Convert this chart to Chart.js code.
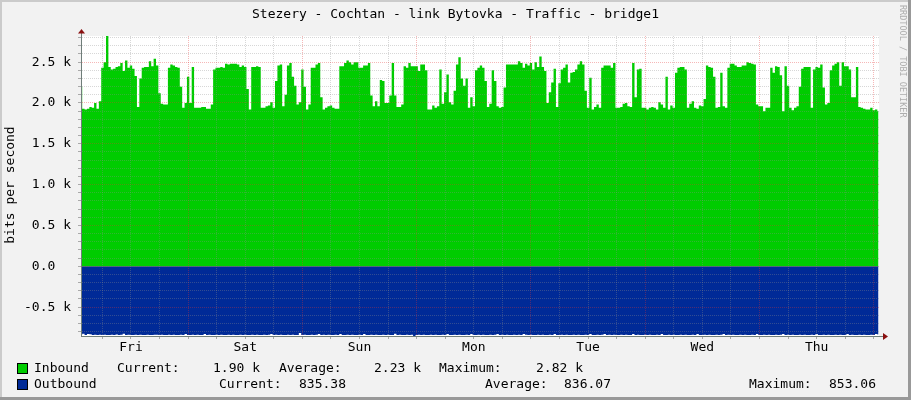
<!DOCTYPE html>
<html>
<head>
<meta charset="utf-8">
<title>Stezery - Cochtan - link Bytovka - Traffic - bridge1</title>
<script src="https://cdn.jsdelivr.net/npm/chart.js@4.4.1/dist/chart.umd.min.js"></script>
<style>
    html, body { margin: 0; padding: 0; background: #f2f2f2; }
    .graph {
        position: relative;
        width: 911px;
        height: 400px;
        overflow: hidden;
        background: #f2f2f2;
        font-family: "DejaVu Sans Mono", monospace;
        font-size: 13px;
        color: #000;
    }
    #trafficChart { position: absolute; left: 0; top: 0; }
    .txt { position: absolute; white-space: pre; line-height: 16px; }
    .graph-title { left: 0; width: 911px; top: 6px; text-align: center; }
    .y-title {
        left: 10px; top: 185px;
        transform: translate(-50%, -50%) rotate(-90deg);
    }
    .watermark {
        left: 898px; top: 5px;
        writing-mode: vertical-rl;
        font-size: 8.5px; line-height: 10px;
        color: #adadad;
    }
    .swatch {
        position: absolute;
        width: 9px; height: 9px;
        border: 1px solid #000;
    }
    .shade { position: absolute; }
</style>
</head>
<body>
<div class="graph">
    <canvas id="trafficChart" width="911" height="400"></canvas>

    <div class="txt graph-title">Stezery - Cochtan - link Bytovka - Traffic - bridge1</div>
    <div class="txt y-title">bits per second</div>
    <div class="txt watermark">RRDTOOL / TOBI OETIKER</div>

    <div class="swatch" style="left:17px; top:363px; background:#00cc00;"></div>
    <div class="txt" style="left:34px; top:360px;">Inbound</div>
    <div class="txt" style="left:117px; top:360px;">Current:</div>
    <div class="txt" id="inCurrent" style="left:213px; top:360px;"></div>
    <div class="txt" style="left:279px; top:360px;">Average:</div>
    <div class="txt" id="inAverage" style="left:374px; top:360px;"></div>
    <div class="txt" style="left:439px; top:360px;">Maximum:</div>
    <div class="txt" id="inMaximum" style="left:536px; top:360px;"></div>

    <div class="swatch" style="left:17px; top:379px; background:#002a97;"></div>
    <div class="txt" style="left:34px; top:376px;">Outbound</div>
    <div class="txt" style="left:219px; top:376px;">Current:</div>
    <div class="txt" id="outCurrent" style="left:299px; top:376px;"></div>
    <div class="txt" style="left:485px; top:376px;">Average:</div>
    <div class="txt" id="outAverage" style="left:564px; top:376px;"></div>
    <div class="txt" style="left:749px; top:376px;">Maximum:</div>
    <div class="txt" id="outMaximum" style="left:829px; top:376px;"></div>

    <div class="shade" style="left:0; top:0; width:911px; height:2px; background:#cbcbcb;"></div>
    <div class="shade" style="left:0; top:0; width:2px; height:400px; background:#cbcbcb;"></div>
    <div class="shade" style="left:908px; top:0; width:3px; height:400px; background:#999;"></div>
    <div class="shade" style="left:0; top:397px; width:911px; height:3px; background:#999;"></div>
</div>

<script>
// Time axis: hours counted from Thursday 00:00, one sample per 30 minutes
const sampleStartHour = 1.5;
const sampleStepHours = 0.5;
const rangeEndHour = 169.1;

// Day names sit at noon of the day before (rrdtool week graph)
const dayLabels = ['Fri', 'Sat', 'Sun', 'Mon', 'Tue', 'Wed', 'Thu'];
const dayLabelHours = [12, 36, 60, 84, 108, 132, 156];

const yTickValues = [-500, 0, 500, 1000, 1500, 2000, 2500];
const yTickLabels = ['-0.5 k', '0.0  ', '0.5 k', '1.0 k', '1.5 k', '2.0 k', '2.5 k'];
const yMin = -853.06;
const yMax = 2820;

// Inbound traffic, bits per second
const inboundBits = [
    2200, 1930, 1920, 1930, 1950, 1940, 2000, 1930, 2020, 2430, 2500, 2820, 2440, 2410,
    2420, 2440, 2450, 2490, 2390, 2520, 2430, 2460, 2420, 2330, 1950, 2300, 2430, 2440,
    2440, 2510, 2450, 2540, 2460, 2120, 1990, 1980, 1980, 2430, 2470, 2460, 2440, 2430,
    2200, 1940, 2000, 2320, 2000, 2440, 1940, 1940, 1940, 1950, 1950, 1930, 1930, 1980,
    2410, 2430, 2430, 2440, 2430, 2480, 2470, 2480, 2480, 2480, 2470, 2440, 2460, 2440,
    2170, 1920, 2440, 2440, 2450, 2440, 1940, 1940, 1960, 1970, 2010, 1940, 2270, 2460,
    2470, 1960, 2100, 2460, 2490, 2320, 2210, 1980, 2010, 2410, 2200, 1920, 1980, 2430,
    2430, 2470, 2490, 2070, 1920, 1940, 1960, 1970, 1940, 1930, 1930, 2450, 2450, 2490,
    2520, 2500, 2470, 2500, 2500, 2430, 2430, 2460, 2460, 2490, 2090, 1960, 2020, 1960,
    2280, 2270, 2000, 2000, 2090, 2490, 2090, 1950, 1950, 1980, 2450, 2430, 2490, 2450,
    2450, 2450, 2390, 2470, 2470, 2400, 1920, 1920, 1970, 1940, 1960, 2410, 1990, 2130,
    2350, 2010, 1980, 2150, 2470, 2560, 2300, 2210, 2300, 1940, 2070, 1960, 2400, 2430,
    2460, 2430, 2270, 1950, 1990, 2400, 2270, 1960, 1940, 1950, 2190, 2470, 2470, 2470,
    2470, 2470, 2510, 2490, 2430, 2480, 2460, 2490, 2410, 2500, 2440, 2570, 2440, 2390,
    2000, 2130, 2250, 2420, 1950, 2240, 2410, 2430, 2470, 2250, 2370, 2380, 2410, 2470,
    2510, 2470, 2150, 1940, 2310, 1920, 1950, 1980, 1940, 2430, 2460, 2460, 2460, 2430,
    2490, 1940, 1940, 1950, 1990, 2000, 1960, 1950, 2490, 2070, 2410, 2420, 1940, 1940,
    1920, 1940, 1950, 1940, 1920, 2010, 1980, 1940, 2320, 1920, 1970, 1940, 2370, 2430,
    2440, 2440, 2410, 1940, 1990, 2020, 1940, 1930, 1970, 1960, 2050, 2460, 2440, 2430,
    2320, 1940, 1950, 2370, 1960, 1940, 2430, 2480, 2480, 2460, 2440, 2440, 2460, 2460,
    2500, 2490, 2480, 2470, 1980, 1960, 1960, 1900, 1940, 1940, 2430, 2370, 2450, 2440,
    2340, 1900, 2450, 2210, 1940, 1910, 1940, 1960, 2200, 2420, 2440, 2440, 2440, 1940,
    2410, 2440, 2430, 2470, 2190, 1980, 2000, 2400, 2460, 2480, 2500, 2210, 2500, 2450,
    2450, 2410, 2070, 2070, 2440, 1950, 1940, 1930, 1920, 1920, 1940, 1910, 1920, 1900
];

// Outbound traffic, bits per second (drawn below the axis)
const outboundBits = [
    838, 826, 840, 829, 831, 840, 839, 841, 838, 840, 837, 842, 840, 839, 841, 836, 840, 838, 827, 840, 839, 841, 840, 838, 840, 839, 842, 840,
    839, 841, 840, 838, 837, 840, 839, 841, 840, 838, 840, 839, 841, 840, 838, 840, 828, 841, 840, 838, 840, 839, 841, 840, 830, 840, 839, 841,
    840, 838, 840, 839, 841, 840, 838, 840, 839, 841, 840, 838, 840, 839, 841, 840, 838, 840, 839, 841, 840, 838, 840, 839, 829, 840, 838, 840,
    839, 841, 840, 838, 840, 839, 841, 840, 816, 840, 839, 841, 840, 838, 840, 839, 828, 840, 838, 840, 839, 841, 840, 838, 840, 830, 841, 840,
    838, 840, 839, 841, 840, 838, 840, 829, 841, 840, 838, 840, 839, 841, 840, 838, 840, 839, 841, 840, 827, 840, 839, 841, 840, 838, 840, 839,
    853, 840, 838, 840, 839, 841, 840, 838, 840, 839, 841, 840, 838, 840, 829, 841, 840, 838, 840, 839, 841, 840, 838, 840, 828, 841, 840, 838,
    840, 839, 841, 840, 838, 840, 839, 828, 840, 838, 840, 839, 841, 840, 838, 840, 839, 841, 830, 838, 840, 839, 841, 840, 838, 840, 839, 841,
    840, 838, 840, 829, 841, 840, 838, 840, 839, 841, 840, 838, 840, 839, 841, 840, 838, 840, 830, 841, 840, 838, 840, 839, 829, 840, 838, 840,
    839, 841, 840, 838, 840, 839, 841, 840, 829, 840, 839, 841, 840, 838, 840, 839, 841, 840, 838, 840, 829, 841, 840, 838, 840, 839, 841, 840,
    838, 840, 839, 841, 840, 838, 840, 828, 841, 840, 838, 840, 839, 841, 840, 838, 840, 839, 830, 840, 838, 840, 839, 841, 840, 838, 840, 839,
    841, 840, 838, 840, 829, 841, 840, 838, 840, 839, 841, 840, 838, 840, 839, 828, 840, 838, 840, 839, 841, 840, 838, 840, 839, 841, 840, 838,
    840, 829, 841, 840, 838, 840, 839, 841, 840, 838, 840, 839, 841, 840, 830, 840, 839, 841, 840, 838, 840, 839, 841, 840, 838, 840, 829, 835
];

// Legend figures as printed by rrdtool
const inboundStats = ['1.90 k', '2.23 k', '2.82 k'];
const outboundStats = ['835.38', '836.07', '853.06'];

// Colours
const inboundColor = '#00cc00';
const outboundColor = '#002a97';
const minorGridColor = 'rgba(140, 140, 140, 0.35)';
const majorGridColor = 'rgba(230, 50, 50, 0.35)';
const axisColor = '#6f7d79';
const arrowColor = '#8a1010';

document.addEventListener('DOMContentLoaded', () => {
    fillLegend();
    createTrafficChart();
});

/**
 * Legend numbers
 */
function fillLegend() {
    document.getElementById('inCurrent').textContent = inboundStats[0];
    document.getElementById('inAverage').textContent = inboundStats[1];
    document.getElementById('inMaximum').textContent = inboundStats[2];
    document.getElementById('outCurrent').textContent = outboundStats[0];
    document.getElementById('outAverage').textContent = outboundStats[1];
    document.getElementById('outMaximum').textContent = outboundStats[2];
}

/**
 * White canvas behind the plot area
 */
const plotBackground = {
    id: 'plotBackground',
    beforeDraw(chart) {
        const { ctx, chartArea: a } = chart;
        ctx.save();
        ctx.fillStyle = '#ffffff';
        ctx.fillRect(a.left, a.top, a.right - a.left, a.bottom - a.top);
        ctx.restore();
    }
};

/**
 * rrdtool style axis arrows
 */
const axisArrows = {
    id: 'axisArrows',
    afterDraw(chart) {
        const { ctx, chartArea: a } = chart;
        const x0 = Math.round(a.left) + 0.5;
        const y0 = Math.round(a.bottom) + 0.5;
        ctx.save();
        ctx.strokeStyle = axisColor;
        ctx.lineWidth = 1;
        ctx.beginPath();
        ctx.moveTo(x0, a.top);
        ctx.lineTo(x0, a.top - 3);
        ctx.moveTo(a.right, y0);
        ctx.lineTo(a.right + 5, y0);
        ctx.stroke();

        ctx.fillStyle = arrowColor;
        ctx.beginPath();
        ctx.moveTo(x0 - 3.5, a.top - 2.5);
        ctx.lineTo(x0 + 3.5, a.top - 2.5);
        ctx.lineTo(x0, a.top - 7);
        ctx.closePath();
        ctx.fill();
        ctx.beginPath();
        ctx.moveTo(a.right + 4, y0 - 3.5);
        ctx.lineTo(a.right + 4, y0 + 3.5);
        ctx.lineTo(a.right + 9, y0);
        ctx.closePath();
        ctx.fill();
        ctx.restore();
    }
};

/**
 * Traffic chart
 */
function createTrafficChart() {
    const ctx = document.getElementById('trafficChart');
    const hourAt = (i) => sampleStartHour + i * sampleStepHours;

    const inboundPoints = inboundBits.map((v, i) => ({ x: hourAt(i), y: v }));
    const outboundPoints = outboundBits.map((v, i) => ({ x: hourAt(i), y: -v }));

    const xGridHours = [];
    for (let h = 6; h <= 168; h += 6) xGridHours.push(h);
    const yGridValues = [];
    for (let v = -800; v <= 2800; v += 100) yGridValues.push(v);

    const tickFont = { family: 'DejaVu Sans Mono', size: 13 };

    window.trafficChartInstance = new Chart(ctx, {
        type: 'line',
        data: {
            datasets: [
                {
                    label: 'Inbound',
                    data: inboundPoints,
                    backgroundColor: inboundColor,
                    borderColor: inboundColor,
                    borderWidth: 0,
                    fill: 'origin',
                    stepped: 'middle',
                    pointRadius: 0
                },
                {
                    label: 'Outbound',
                    data: outboundPoints,
                    backgroundColor: outboundColor,
                    borderColor: outboundColor,
                    borderWidth: 0,
                    fill: 'origin',
                    stepped: 'middle',
                    pointRadius: 0
                }
            ]
        },
        options: {
            responsive: false,
            animation: false,
            devicePixelRatio: 1,
            layout: { padding: { top: 36, right: 32, left: 0, bottom: 0 } },
            plugins: {
                legend: { display: false },
                tooltip: { enabled: false },
                title: { display: false }
            },
            scales: {
                x: {
                    type: 'linear',
                    min: sampleStartHour,
                    max: rangeEndHour,
                    afterBuildTicks: (scale) => {
                        scale.ticks = xGridHours.map(h => ({ value: h }));
                    },
                    afterFit: (scale) => { scale.height = 64; },
                    grid: {
                        z: 1,
                        color: (c) => (c.tick && c.tick.value % 24 === 0) ? majorGridColor : minorGridColor,
                        lineWidth: 1,
                        drawTicks: true,
                        tickLength: 3,
                        tickColor: 'rgba(120, 120, 120, 0.6)'
                    },
                    border: { z: 2, display: true, color: axisColor, width: 1, dash: [1, 1] },
                    ticks: {
                        autoSkip: false,
                        maxRotation: 0,
                        padding: 1,
                        color: '#000',
                        font: tickFont,
                        callback: (value) => {
                            const k = dayLabelHours.indexOf(value);
                            return k >= 0 ? dayLabels[k] : '';
                        }
                    }
                },
                y: {
                    type: 'linear',
                    min: yMin,
                    max: yMax,
                    afterBuildTicks: (scale) => {
                        scale.ticks = yGridValues.map(v => ({ value: v }));
                    },
                    afterFit: (scale) => { scale.width = 81; },
                    grid: {
                        z: 1,
                        color: (c) => (c.tick && c.tick.value % 500 === 0) ? majorGridColor : minorGridColor,
                        lineWidth: 1,
                        drawTicks: true,
                        tickLength: 3,
                        tickColor: 'rgba(120, 120, 120, 0.6)'
                    },
                    border: { z: 2, display: true, color: axisColor, width: 1, dash: [1, 1] },
                    ticks: {
                        autoSkip: false,
                        padding: 7,
                        color: '#000',
                        font: tickFont,
                        callback: (value) => {
                            const k = yTickValues.indexOf(value);
                            return k >= 0 ? yTickLabels[k] : '';
                        }
                    }
                }
            }
        },
        plugins: [plotBackground, axisArrows]
    });
}
</script>
</body>
</html>
